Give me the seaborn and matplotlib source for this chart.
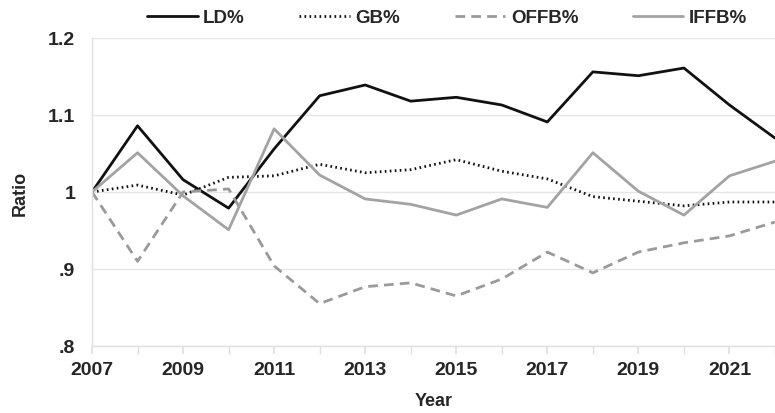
import numpy as np
import pandas as pd
import matplotlib
matplotlib.use("Agg")
import matplotlib.pyplot as plt
import seaborn as sns

years = list(range(2007, 2023))
ld = [1.000, 1.086, 1.016, 0.979, 1.056, 1.125, 1.139, 1.118, 1.123, 1.113,
      1.091, 1.156, 1.151, 1.161, 1.113, 1.070]
gb = [1.000, 1.009, 0.996, 1.019, 1.021, 1.036, 1.025, 1.029, 1.042, 1.027,
      1.017, 0.994, 0.988, 0.982, 0.987, 0.987]
offb = [1.000, 0.910, 1.000, 1.004, 0.904, 0.855, 0.877, 0.882, 0.865, 0.887,
        0.922, 0.895, 0.922, 0.934, 0.943, 0.961]
iffb = [1.000, 1.051, 0.995, 0.951, 1.082, 1.022, 0.991, 0.984, 0.970, 0.991,
        0.980, 1.051, 1.001, 0.970, 1.021, 1.040]

series_names = ["LD%", "GB%", "OFFB%", "IFFB%"]
y_ticks = [0.8, 0.9, 1.0, 1.1, 1.2]
y_tick_labels = [".8", ".9", "1", "1.1", "1.2"]
x_ticks = [2007, 2009, 2011, 2013, 2015, 2017, 2019, 2021]

df = pd.DataFrame({
    "Year": years * 4,
    "Ratio": ld + gb + offb + iffb,
    "Series": sum([[n] * len(years) for n in series_names], []),
})

sns.set_theme(style="white")
plt.rcParams["font.family"] = ["Liberation Sans", "DejaVu Sans"]
plt.rcParams["font.weight"] = "bold"

fig = plt.figure(figsize=(7.75, 4.14), dpi=100)
ax = fig.add_axes([92 / 775, 1 - 347 / 414, 1 - 92 / 775, (347 - 39) / 414])

palette = {"LD%": "#111111", "GB%": "#111111", "OFFB%": "#9a9a9a", "IFFB%": "#a3a3a3"}
dashes = {"LD%": "", "GB%": (0.6, 1.2), "OFFB%": (3.5, 2.2), "IFFB%": ""}

sns.lineplot(data=df, x="Year", y="Ratio", hue="Series", style="Series",
             palette=palette, dashes=dashes, linewidth=2.0, ax=ax,
             legend=True)

ax.set_xlim(2007, 2022)
ax.set_ylim(0.8, 1.2)
ax.set_yticks(y_ticks)
ax.set_yticklabels(y_tick_labels)
ax.set_xticks(x_ticks)
ax.set_xticks(years, minor=True)
ax.yaxis.grid(True, color="#e6e6e6", linewidth=1.0)
ax.set_axisbelow(True)
for s in ["top", "right"]:
    ax.spines[s].set_visible(False)
for s in ["left", "bottom"]:
    ax.spines[s].set_color("#e0e0e0")
    ax.spines[s].set_linewidth(1.0)

ax.tick_params(axis="x", which="both", bottom=True, length=6, color="#e0e0e0",
               labelsize=14, pad=5)
ax.tick_params(axis="y", left=False, length=0, labelsize=14, pad=12)
for lab in ax.get_xticklabels() + ax.get_yticklabels():
    lab.set_fontweight("bold")

ax.set_xlabel("Year", fontsize=13, fontweight="bold", labelpad=10)
ax.set_ylabel("Ratio", fontsize=13, fontweight="bold", labelpad=14)

handles, labels = ax.get_legend_handles_labels()
leg = ax.legend(handles, labels, loc="lower center", bbox_to_anchor=(0.52, 0.995),
                ncol=4, frameon=False, fontsize=13.5, handlelength=2.7,
                handletextpad=0.3, columnspacing=2.9, borderaxespad=0.3)
for t in leg.get_texts():
    t.set_fontweight("bold")
for h in leg.get_lines():
    h.set_linewidth(2.0)

fig.savefig("out.png", dpi=100)
